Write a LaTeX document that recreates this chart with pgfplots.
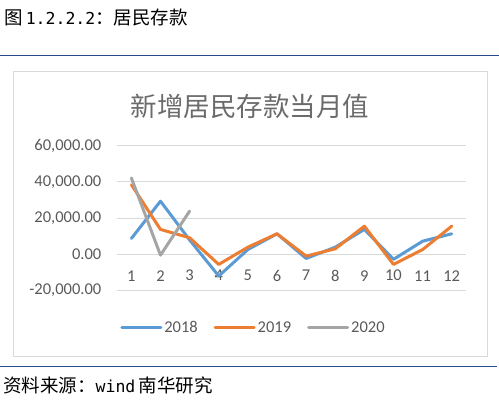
\documentclass[border=0pt]{standalone}
\usepackage{pgfplots}
\pgfplotsset{compat=1.18}
\usepackage{fontspec}
\setmainfont{Carlito}
\newfontfamily\cjk{Noto Sans CJK SC}
\newfontfamily\mono{DejaVu Sans Mono}

\definecolor{s18}{RGB}{91,155,213}
\definecolor{s19}{RGB}{237,125,49}
\definecolor{s20}{RGB}{165,165,165}
\definecolor{gridc}{RGB}{217,217,217}
\definecolor{txt}{RGB}{89,89,89}
\definecolor{rule}{RGB}{38,76,140}

\begin{document}
\begin{tikzpicture}[x=1pt,y=1pt]
\useasboundingbox (0,0) rectangle (499,401);
% page header and source line
\node[anchor=west, inner sep=0pt] at (4,383)
  {\fontsize{18.5}{20}\selectfont\cjk 图\,{\mono\fontsize{16.5}{20}\selectfont 1.2.2.2}：居民存款};
\draw[rule, line width=1.5pt] (0,345.5) -- (499,345.5);
\draw[rule, line width=1.5pt] (0,34.5) -- (497,34.5);
\node[anchor=west, inner sep=0pt] at (3,16)
  {\fontsize{18.5}{20}\selectfont\cjk 资料来源：{\mono\fontsize{16.5}{20}\selectfont wind}\,南华研究};
% chart frame
\draw[gridc, line width=1pt] (13,44) rectangle (487,329);
\node[text=black!58] at (250,295) {\fontsize{26.5}{30}\selectfont\cjk 新增居民存款当月值};

\begin{axis}[
    at={(116.8pt,110.3pt)}, anchor=south west,
    scale only axis,
    width=349.5pt, height=145pt,
    xmin=0.5, xmax=12.5,
    ymin=-20000, ymax=60000,
    xtick={1,...,12},
    xticklabels={1,2,3,4,5,6,7,8,9,10,11,12},
    scaled y ticks=false,
    ytick={-20000,0,20000,40000,60000},
    yticklabels={{-20,000.00},{0.00},{20,000.00},{40,000.00},{60,000.00}},
    ymajorgrids,
    grid style={gridc, line width=1pt},
    axis line style={draw=none},
    major tick length=0pt,
    tick label style={font=\fontsize{16.5}{19}\selectfont, text=txt},
    x tick label style={anchor=center, yshift=15pt},
    y tick label style={anchor=east, xshift=-12pt},
    legend columns=3,
    legend style={at={(0.391,-0.257)}, anchor=center, draw=none, fill=none,
      font=\fontsize{16.5}{19}\selectfont,
      /tikz/every even column/.append style={column sep=14pt},
      nodes={inner sep=2pt, text=txt}},
    legend image code/.code={\draw[#1] (0pt,0pt) -- (39pt,0pt);},
    every axis plot/.append style={line width=3pt, line join=round, line cap=round},
]
\addplot[s18] coordinates {
  (1,8800)(2,29400)(3,8000)(4,-11900)(5,2700)(6,11400)
  (7,-2200)(8,4000)(9,13800)(10,-2700)(11,7300)(12,11400)
};
\addlegendentry{2018}
\addplot[s19] coordinates {
  (1,38500)(2,13800)(3,9200)(4,-5500)(5,4000)(6,11400)
  (7,-900)(8,3100)(9,15600)(10,-5500)(11,2700)(12,15600)
};
\addlegendentry{2019}
\addplot[s20] coordinates {
  (1,42200)(2,-400)(3,23900)
};
\addlegendentry{2020}
\end{axis}
\end{tikzpicture}
\end{document}
